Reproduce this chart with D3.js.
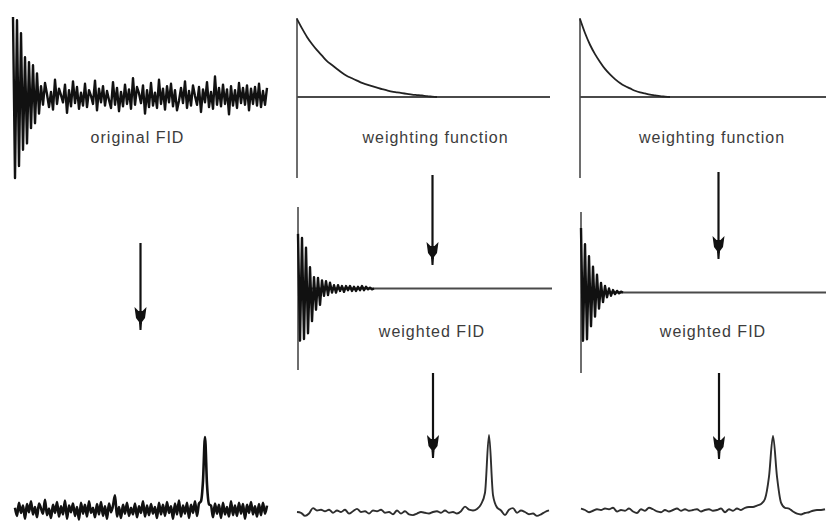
<!DOCTYPE html>
<html>
<head>
<meta charset="utf-8">
<script src="https://cdn.jsdelivr.net/npm/d3@7"></script>
<style>
  body { margin: 0; background: #fff; }
  text { font-family: "Liberation Sans", Arial, sans-serif; }
</style>
</head>
<body>
<div id="chart"></div>
<script>
// original FID, one value every time step (arbitrary intensity units)
const fidOriginal = [100,-100,96,-85,80,-65,50,-57,44,-38,40,-32,30,-20,
  14,-9,18,4,-12,7,-15,22,-8,11,3,-6,16,-19,9,-11,20,-7,13,-14,6,-10,
  17,-12,9,2,-8,21,-16,11,-6,14,-10,8,-3,-13,19,-9,12,-17,7,-11,16,-8,
  10,-14,24,-9,13,5,-7,15,-20,9,-12,18,-10,6,-13,22,-8,11,-15,14,-6,
  17,-11,9,-16,-4,12,-7,20,-13,8,-10,15,2,-9,13,-18,10,-6,19,-12,7,-14,
  26,-9,12,-11,16,-8,10,-21,14,-10,9,-13,18,-7,12,-9,15,-16,11,-8,
  13,-10,17,-12,8,-9,12];

// weighting functions (relative, 1 = start)
const weightSlow = [1.00,0.88,0.77,0.68,0.60,0.53,0.46,0.41,0.36,0.31,0.27,0.24,0.21,0.18,
  0.16,0.14,0.12,0.10,0.085,0.07,0.06,0.05,0.04,0.03,0.025,0.02,0.01,0.005,0];
const weightFast = [1.00,0.82,0.67,0.55,0.45,0.36,0.29,0.23,0.18,0.14,0.11,0.08,0.06,0.045,
  0.03,0.02,0.01,0.005,0];

// weighted FIDs
const fidWeightedSlow = [67,-64,62,-62,50,-55,26,-40,14,-26,13,-20,10,-9,9,-8,7,-5,4,-5,
  4,-3,3,-4,3,-2,3,-3,2,-3,2,-2,3,-2,2,-1,1,-1,0];
const fidWeightedFast = [80,-60,60,-58,45,-42,32,-30,22,-20,12,-12,8,-6,5,-4,3,-2,2,-1,1,0];

// spectra (peak = 100)
const specOriginal = [3,-8,10,-4,6,-12,8,-3,12,-6,
  4,-10,9,2,-5,14,-7,2,-11,7,
  -4,11,-9,5,-6,13,-12,6,-3,9,
  -8,4,-13,10,-5,7,-9,12,-4,3,
  -10,8,-6,11,-8,5,-12,9,-3,6,
  20,-9,4,-11,7,-5,10,-8,3,-6,
  9,-10,5,-4,12,-9,6,-7,8,-5,
  4,-11,10,-6,7,-8,11,-4,5,-12,
  9,-6,13,-9,6,-5,10,-11,7,-4,
  12,-8,9,12,40,100,35,8,6,-10,
  9,-5,7,-11,10,-6,4,-9,12,-7,
  6,-8,10,-5,8,-12,7,-4,11,-6,
  5,-9,8,-7,10,-5,6];
const specSlow = [0,-1,-5,-2,5,2,3,1,3,-1,2,0,3,-2,1,4,0,1,-2,2,1,3,-1,0,-3,2,-2,1,-3,-4,
  -2,0,-1,-2,0,1,-1,2,-1,0,-2,1,7,3,2,4,10,25,100,22,6,2,-4,3,5,-1,2,0,-3,-2,-5,-3,0,2];
const specFast = [2,0,-3,-1,1,0,2,1,3,-2,0,-1,2,-2,-4,1,-1,3,1,-2,-3,0,-2,0,2,-1,1,-1,0,1,
  -2,0,1,-1,0,2,-3,1,-1,2,0,3,4,4,6,8,15,45,100,45,10,3,2,-2,-5,-6,-4,-3,-1,0,0,1];

const labels = ["original FID", "weighting function", "weighting function", "weighted FID", "weighted FID"];

const width = 826, height = 525;
const svg = d3.select("#chart").append("svg")
  .attr("width", width)
  .attr("height", height);

const dark = "#111", axisCol = "#4a4a4a";

function fidPanel(data, x0, x1, yTop, yBot, axis) {
  const x = d3.scaleLinear().domain([0, 127]).range([x0, x1]);
  const y = d3.scaleLinear().domain([-100, 100]).range([yBot, yTop]);
  if (axis) {
    svg.append("line")
      .attr("x1", x(0)).attr("x2", x(0))
      .attr("y1", y(100)).attr("y2", y(-100))
      .attr("stroke", axisCol).attr("stroke-width", 1.6);
    svg.append("line")
      .attr("x1", x(0)).attr("x2", axis)
      .attr("y1", y(0)).attr("y2", y(0))
      .attr("stroke", axisCol).attr("stroke-width", 1.8);
  }
  const line = d3.line()
    .x((d, i) => x(i))
    .y(d => y(d));
  svg.append("path")
    .attr("d", line(data))
    .attr("fill", "none")
    .attr("stroke", dark)
    .attr("stroke-width", 2.4)
    .attr("stroke-linejoin", "round");
}

function weightPanel(data, x0, axisEnd) {
  const x = d3.scaleLinear().domain([0, 50]).range([x0, x0 + 250]);
  const y = d3.scaleLinear().domain([0, 1]).range([97, 19]);
  svg.append("line")
    .attr("x1", x(0)).attr("x2", x(0))
    .attr("y1", 18).attr("y2", 178)
    .attr("stroke", axisCol).attr("stroke-width", 1.6);
  svg.append("line")
    .attr("x1", x(0)).attr("x2", axisEnd)
    .attr("y1", y(0)).attr("y2", y(0))
    .attr("stroke", axisCol).attr("stroke-width", 1.8);
  svg.append("path")
    .attr("d", d3.line().x((d, i) => x(i)).y(d => y(d)).curve(d3.curveMonotoneX)(data))
    .attr("fill", "none")
    .attr("stroke", "#222")
    .attr("stroke-width", 1.8);
}

function specPanel(data, x0, step, base, top, sw, col) {
  const x = d3.scaleLinear().domain([0, 1]).range([x0, x0 + step]);
  const y = d3.scaleLinear().domain([0, 100]).range([base, top]);
  svg.append("path")
    .attr("d", d3.line().x((d, i) => x(i)).y(d => y(d)).curve(d3.curveMonotoneX)(data))
    .attr("fill", "none")
    .attr("stroke", col)
    .attr("stroke-width", sw)
    .attr("stroke-linejoin", "round");
}

function arrow(xc, y1, y2) {
  svg.append("line")
    .attr("x1", xc).attr("x2", xc)
    .attr("y1", y1).attr("y2", y2 - 6)
    .attr("stroke", dark).attr("stroke-width", 2.2);
  svg.append("path")
    .attr("d", "M-6,-23 L-2,-19 L2,-19 L6,-23 L4.5,-12 L1.5,-8 L1,0 L-1,0 L-1.5,-8 L-4.5,-12 Z")
    .attr("transform", "translate(" + xc + "," + y2 + ")")
    .attr("fill", dark);
}

// top row
fidPanel(fidOriginal, 13, 267, 17, 178, null);
weightPanel(weightSlow, 297, 550);
weightPanel(weightFast, 580, 826);

// middle row
fidPanel(fidWeightedSlow, 298, 552, 207, 370, 552);
fidPanel(fidWeightedFast, 581, 835, 212, 373, 826);

// bottom row
specPanel(specOriginal, 15, 2, 510, 437, 2.6, dark);
specPanel(specSlow, 297, 4, 512, 435, 1.9, "#2e2e2e");
specPanel(specFast, 581, 4, 510, 436, 1.9, "#2e2e2e");

// arrows
arrow(140.5, 243, 330);
arrow(432.5, 175, 265);
arrow(433, 373, 458);
arrow(718.5, 172, 259);
arrow(719, 373, 459);

// labels
const labelPos = [[137.5, 143], [435.5, 143], [712, 143], [432, 337], [713, 337]];
svg.selectAll(".lbl")
  .data(labels)
  .enter().append("text")
  .attr("class", "lbl")
  .attr("x", (d, i) => labelPos[i][0])
  .attr("y", (d, i) => labelPos[i][1])
  .attr("text-anchor", "middle")
  .attr("font-size", "16px")
  .attr("letter-spacing", "1px")
  .attr("fill", "#3c3c3c")
  .text(d => d);
</script>
</body>
</html>
